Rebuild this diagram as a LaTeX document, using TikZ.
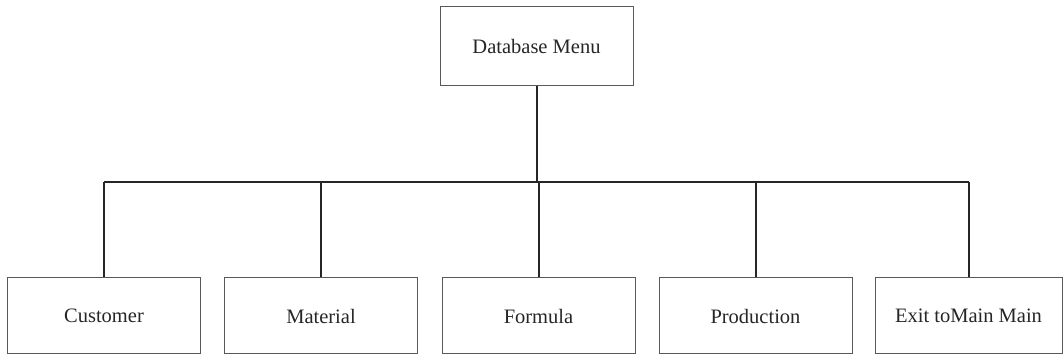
\documentclass[tikz,border=0pt]{standalone}
\usepackage{fontspec}
\setmainfont{Liberation Serif}
\usepackage{tikz}
\colorlet{boxline}{black!65}
\colorlet{linkline}{black!85}
\colorlet{menutext}{black!85}

\begin{document}
\begin{tikzpicture}[x=1pt,y=1pt,
    menubox/.style={draw=boxline, line width=1pt, minimum width=193pt,
      minimum height=76pt, inner sep=0pt, text=menutext,
      font=\fontsize{20.5}{24}\selectfont},
    link/.style={draw=linkline, line width=2pt}]
  \useasboundingbox (0,0) rectangle (1063,356);
  % Top level menu
  \node[menubox, minimum height=79pt] (dbmenu) at (536.5,309.5) {Database Menu};
  % Sub menus along the bottom
  \node[menubox] (customer) at (104,40) {Customer};
  \node[menubox] (material) at (321,40) {Material};
  \node[menubox] (formula) at (538.5,40) {Formula};
  \node[menubox] (production) at (755.5,40) {Production};
  \node[menubox, minimum width=187pt] (exitmain) at (968.5,40) {Exit toMain Main};
  % Horizontal bus
  \coordinate (busL) at (104,174);
  \coordinate (busR) at (968.5,174);
  \draw[link] (dbmenu.south) -- (dbmenu.south |- busL);
  \draw[link] (busL) -- (busR);
  % Drops to each sub menu
  \foreach \n in {customer,material,formula,production,exitmain}
    \draw[link] (\n.north |- busL) -- (\n.north);
\end{tikzpicture}
\end{document}
